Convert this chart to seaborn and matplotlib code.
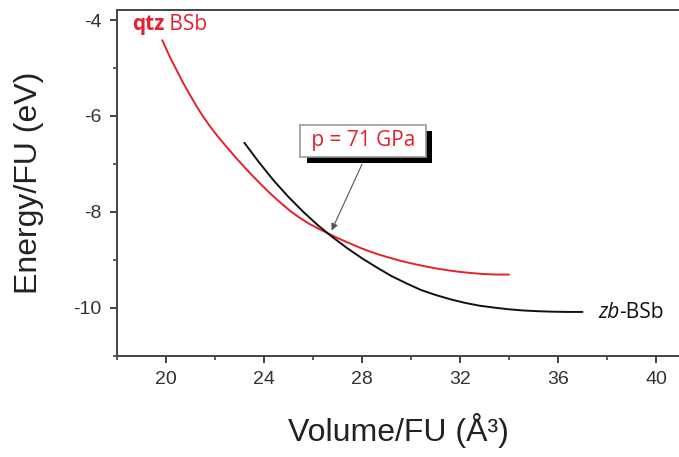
import numpy as np
import pandas as pd
import matplotlib
matplotlib.use("Agg")
import matplotlib.pyplot as plt
import matplotlib.patheffects as pe
import seaborn as sns
from matplotlib.ticker import MultipleLocator

# energy vs volume curves
qtz_vol = [19.85, 20.16, 20.45, 20.71, 21.0, 21.25, 21.5, 21.8, 22.1, 22.48, 22.8, 23.16,
           23.5, 23.9, 24.25, 24.65, 25.05, 25.47, 25.88, 26.29, 26.69, 27.1, 27.51, 27.92,
           28.33, 28.73, 29.14, 29.55, 30.0, 30.5, 31.0, 31.5, 32.0, 32.5, 33.0, 33.5, 34.0]
qtz_e = [-4.42, -4.77, -5.06, -5.32, -5.58, -5.80, -6.00, -6.22, -6.42, -6.65, -6.84, -7.045,
         -7.23, -7.44, -7.615, -7.80, -7.975, -8.13, -8.26, -8.37, -8.47, -8.57, -8.66, -8.75,
         -8.83, -8.90, -8.96, -9.02, -9.075, -9.13, -9.18, -9.22, -9.255, -9.28, -9.30, -9.31, -9.31]

zb_vol = [23.2, 23.8, 24.4, 25.0, 25.6, 26.2, 26.8, 27.4, 28.0, 28.6, 29.2, 29.8,
          30.4, 31.0, 31.6, 32.2, 32.8, 33.4, 34.0, 34.6, 35.2, 35.8, 36.4, 37.0]
zb_e = [-6.56, -6.97, -7.35, -7.69, -8.00, -8.28, -8.53, -8.76, -8.97, -9.16, -9.34, -9.49,
        -9.63, -9.735, -9.825, -9.90, -9.96, -10.00, -10.035, -10.06, -10.075, -10.085, -10.09, -10.09]

df = pd.concat([
    pd.DataFrame({'V': qtz_vol, 'E': qtz_e, 'phase': 'qtz'}),
    pd.DataFrame({'V': zb_vol, 'E': zb_e, 'phase': 'zb'}),
])

sns.set_theme(style='ticks')
plt.rcParams['font.family'] = ['Liberation Sans', 'DejaVu Sans']
plt.rcParams['axes.unicode_minus'] = False

fig = plt.figure(figsize=(6.79, 4.57), dpi=100)
ax = fig.add_axes([0.1723, 0.222, 0.8277, 0.756])

sns.lineplot(data=df, x='V', y='E', hue='phase', palette={'qtz': '#e8202a', 'zb': '#111111'},
             sort=False, estimator=None, linewidth=1.4, legend=False, ax=ax)
for ln in ax.lines:
    ln.set_solid_joinstyle('round')

ax.set_xlim(18, 40.94)
ax.set_ylim(-11, -3.79)
ax.xaxis.set_major_locator(MultipleLocator(4))
ax.xaxis.set_minor_locator(MultipleLocator(2))
ax.yaxis.set_major_locator(MultipleLocator(2))
ax.yaxis.set_minor_locator(MultipleLocator(1))
ax.tick_params(which='major', direction='out', length=5, width=1.3, color='#333333',
               labelsize=14, labelcolor='#333333', pad=6)
ax.tick_params(which='minor', direction='out', length=3, width=1.1, color='#333333')
ax.spines['right'].set_visible(False)
for s in ['left', 'top', 'bottom']:
    ax.spines[s].set_linewidth(1.4)
    ax.spines[s].set_color('#444444')

ax.set_xlabel('Volume/FU (Å³)', fontsize=23, color='#222222', labelpad=18)
ax.set_ylabel('Energy/FU (eV)', fontsize=23, color='#222222', labelpad=21)

lab_font = ['Open Sans', 'DejaVu Sans']
t1 = ax.text(18.61, -4.1, 'qtz', color='#e8202a', fontsize=15, fontweight='bold',
             family=lab_font, va='center')
ax.annotate(' BSb', xy=(1, 0), xycoords=t1, color='#e8202a', fontsize=15,
            family=lab_font, va='bottom', ha='left')
t2 = ax.text(37.63, -10.1, 'zb', color='#111111', fontsize=15, style='italic',
             family=lab_font, va='center')
ax.annotate('-BSb', xy=(1, 0), xycoords=t2, color='#111111', fontsize=15,
            family=lab_font, va='bottom', ha='left')

# arrow to the crossing point
ax.annotate('', xy=(26.76, -8.39), xytext=(28.0, -7.01),
            arrowprops=dict(arrowstyle='-|>', color='#555555', lw=0.8,
                            mutation_scale=10, shrinkA=0, shrinkB=0))
# pressure label with a drop shadow
box = ax.text(28.04, -6.52, ' p = 71 GPa ', color='#e8202a', fontsize=15, ha='center',
              va='center', family=lab_font,
              bbox=dict(boxstyle='square,pad=0.25', fc='white', ec='#999999', lw=1.2))
box.get_bbox_patch().set_path_effects([
    pe.SimplePatchShadow(offset=(4.5, -4.5), shadow_rgbFace='black', alpha=1.0),
    pe.Normal()])

fig.savefig('out.png', dpi=100)
